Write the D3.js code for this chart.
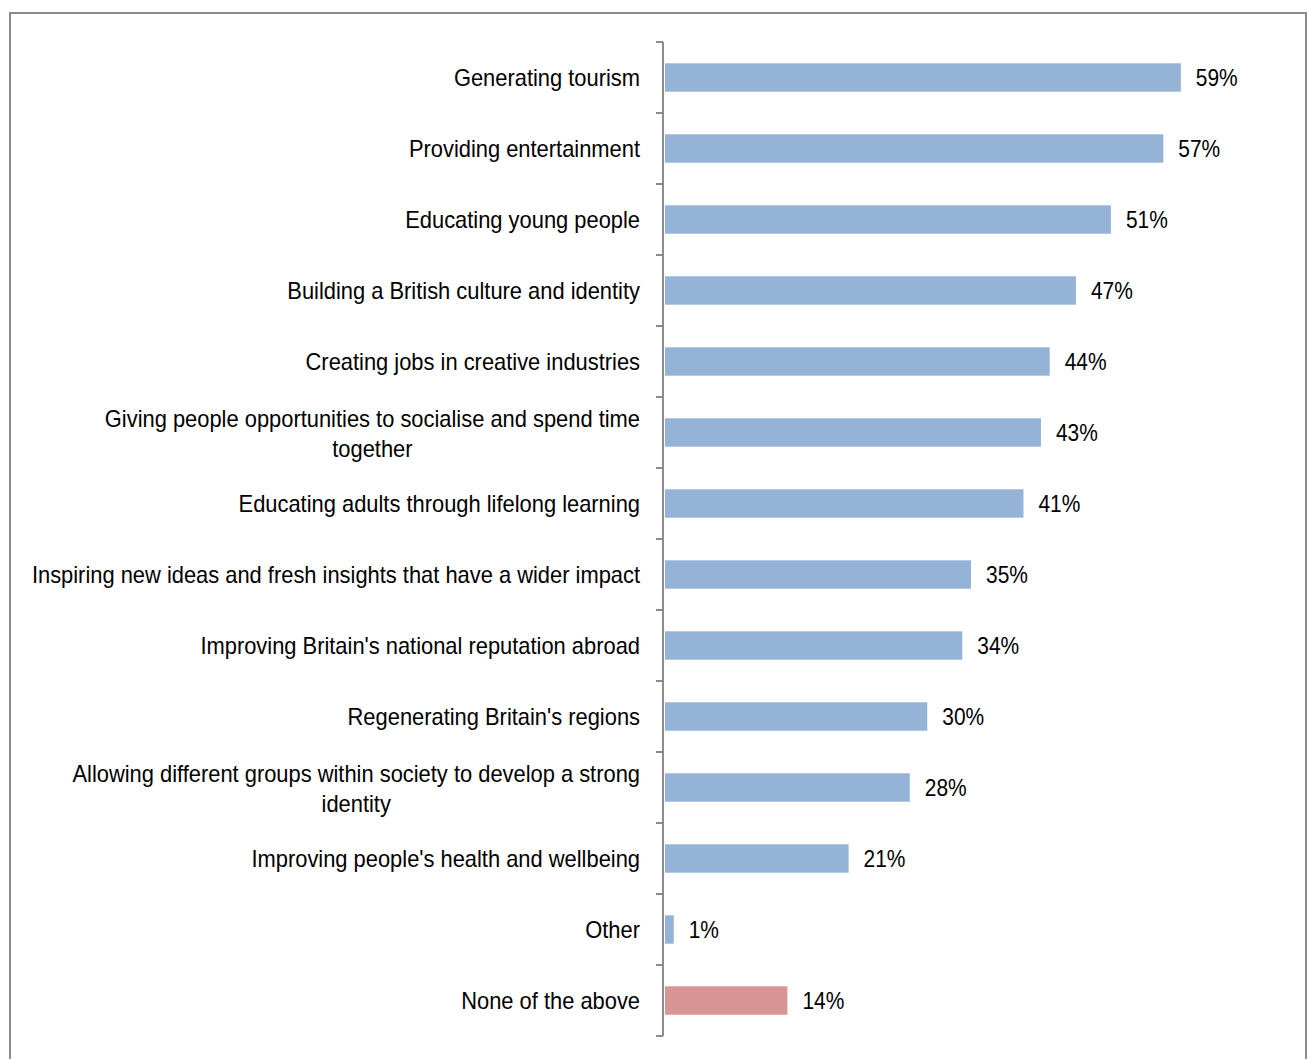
<!DOCTYPE html>
<html>
<head>
<meta charset="utf-8">
<script src="https://cdn.jsdelivr.net/npm/d3@7"></script>
<style>
  html, body { margin: 0; padding: 0; background: #fff; }
  svg { display: block; }
  text { font-family: "Liberation Sans Narrow", "Arial Narrow", "Liberation Sans", Arial, sans-serif; fill: #000; }
</style>
</head>
<body>
<svg id="chart" width="1309" height="1059"></svg>
<script>
// Survey answers, top to bottom ("\n" marks a line break in the label)
const categories = [
  "Generating tourism",
  "Providing entertainment",
  "Educating young people",
  "Building a British culture and identity",
  "Creating jobs in creative industries",
  "Giving people opportunities to socialise and spend time\ntogether",
  "Educating adults through lifelong learning",
  "Inspiring new ideas and fresh insights that have a wider impact",
  "Improving Britain's national reputation abroad",
  "Regenerating Britain's regions",
  "Allowing different groups within society to develop a strong\nidentity",
  "Improving people's health and wellbeing",
  "Other",
  "None of the above"
];
// Share of respondents, in percent
const values = [59, 57, 51, 47, 44, 43, 41, 35, 34, 30, 28, 21, 1, 14];
// Highlighted answers get the second colour
const highlighted = ["None of the above"];

const svg = d3.select("#chart");
const fontSize = 23;
const labelSqueeze = 0.952;  // slightly condensed lettering
const valueSqueeze = 0.91;
const textShift = 1;         // optical vertical centring of text

// Outer frame
svg.append("rect")
  .attr("x", 10).attr("y", 13)
  .attr("width", 1296).attr("height", 1100)
  .attr("fill", "#fff")
  .attr("stroke", "#8c8c8c")
  .attr("stroke-width", 2);

const axisX = 663;
const y = d3.scaleBand()
  .domain(categories)
  .range([42, 1036])
  .paddingInner(0.6)
  .paddingOuter(0.3);

const x = d3.scaleLinear()
  .domain([0, 70])
  .range([axisX + 2, axisX + 2 + 612]);

const data = categories.map((c, i) => ({ cat: c, value: values[i] }));

// Bars
svg.append("g").selectAll("rect")
  .data(data)
  .join("rect")
  .attr("x", x(0))
  .attr("y", d => y(d.cat))
  .attr("width", d => x(d.value) - x(0))
  .attr("height", y.bandwidth())
  .attr("fill", d => highlighted.includes(d.cat) ? "#D99594" : "#95B3D7");

// Category axis: line with tick marks on band boundaries
const axis = svg.append("g");
axis.append("line")
  .attr("x1", axisX).attr("x2", axisX)
  .attr("y1", y.range()[0]).attr("y2", y.range()[1])
  .attr("stroke", "#8c8c8c").attr("stroke-width", 2);
const step = y.step();
const boundaries = d3.range(categories.length + 1).map(i => y.range()[0] + i * step);
axis.selectAll("line.tick")
  .data(boundaries)
  .join("line")
  .attr("class", "tick")
  .attr("x1", axisX - 7).attr("x2", axisX)
  .attr("y1", d => d).attr("y2", d => d)
  .attr("stroke", "#8c8c8c").attr("stroke-width", 2);

// Category labels, right aligned; wrapped labels centred as a block
const labelRight = 640;
const lineHeight = 30;
const labels = svg.append("g")
  .attr("transform", `translate(${labelRight},${textShift}) scale(${labelSqueeze},1)`)
  .style("font-size", fontSize + "px");
data.forEach(d => {
  const lines = d.cat.split("\n");
  const cy = y(d.cat) + y.bandwidth() / 2;
  const t = labels.append("text")
    .attr("dominant-baseline", "central");
  if (lines.length === 1) {
    t.attr("x", 0).attr("y", cy)
      .attr("text-anchor", "end").text(lines[0]);
  } else {
    const spans = lines.map((l, i) => t.append("tspan")
      .attr("y", cy + (i - (lines.length - 1) / 2) * lineHeight)
      .text(l));
    const maxW = d3.max(spans, s => s.node().getComputedTextLength());
    t.attr("text-anchor", "middle");
    spans.forEach(s => s.attr("x", -maxW / 2));
  }
});

// Value labels
svg.append("g").style("font-size", fontSize + "px")
  .selectAll("text")
  .data(data)
  .join("text")
  .attr("transform", d => `translate(${x(d.value) + 15},${y(d.cat) + y.bandwidth() / 2 + textShift}) scale(${valueSqueeze},1)`)
  .attr("dominant-baseline", "central")
  .text(d => d.value + "%");
</script>
</body>
</html>
